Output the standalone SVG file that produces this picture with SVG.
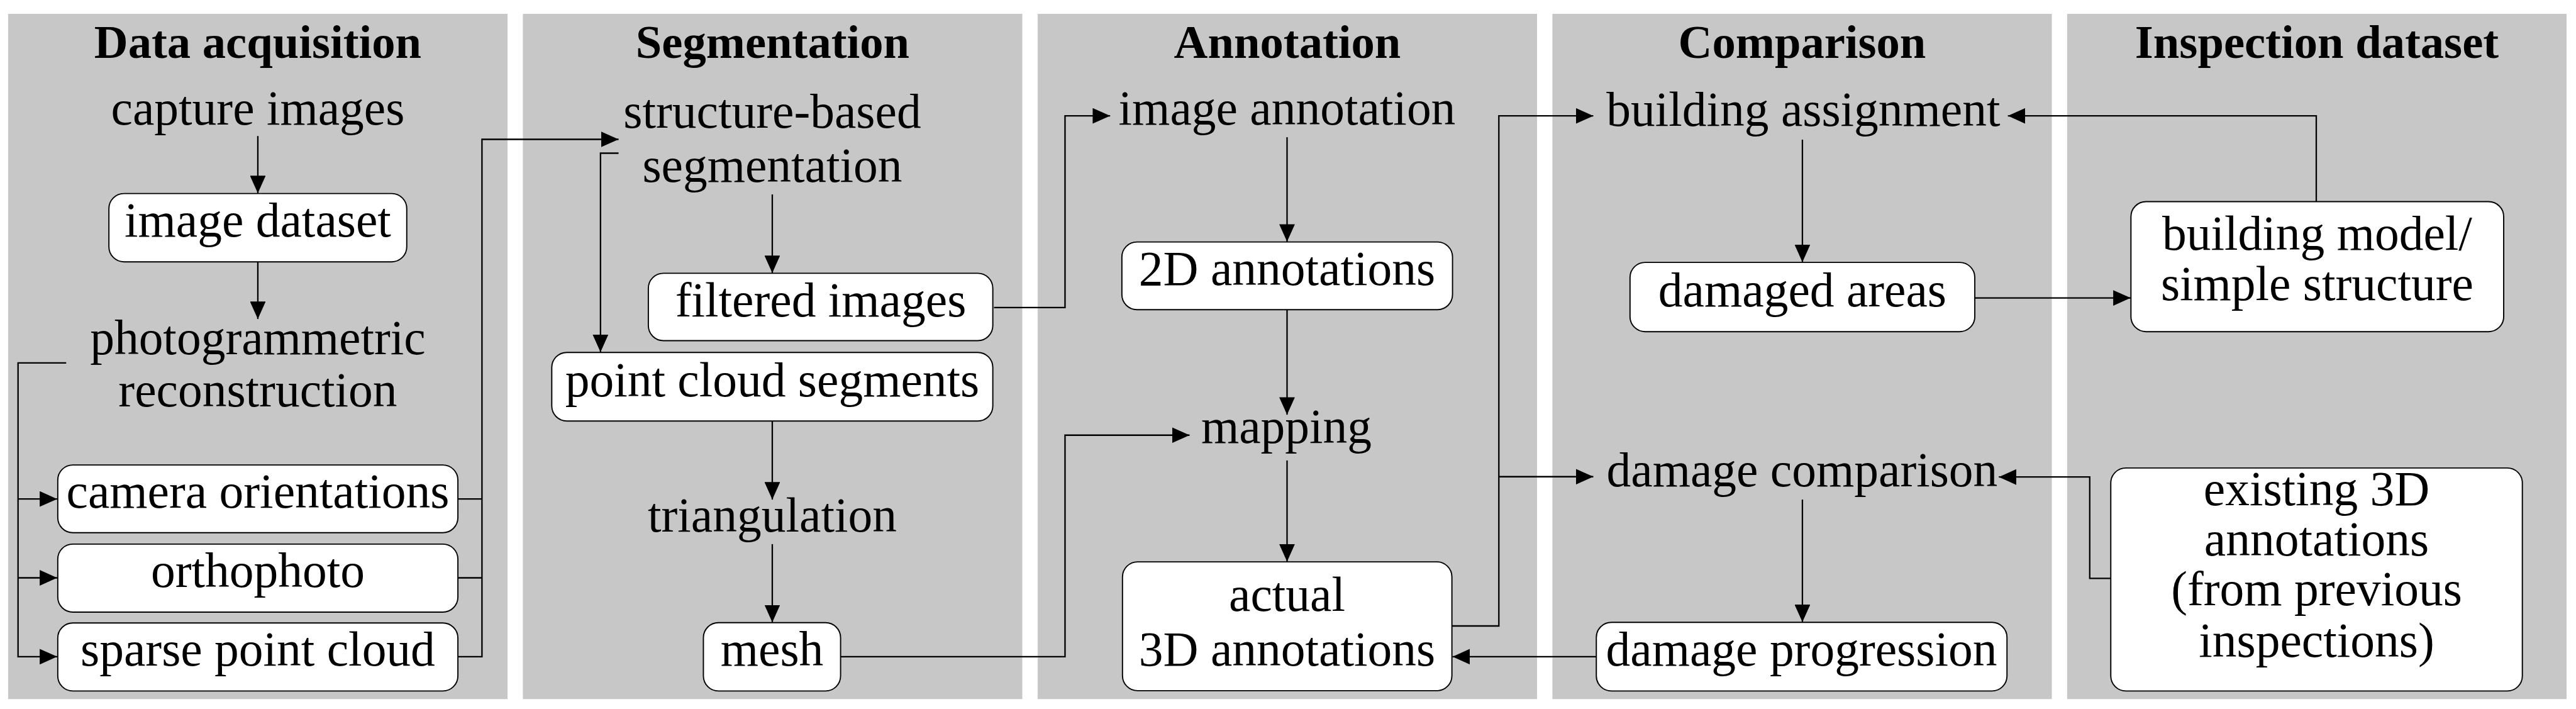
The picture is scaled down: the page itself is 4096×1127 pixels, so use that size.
<svg xmlns="http://www.w3.org/2000/svg" width="4096" height="1127" viewBox="0 0 4096 1127">
<defs>
<style>
.panel{fill:#c7c7c7}
.title{font-family:"Liberation Serif","Times New Roman",serif;font-weight:bold;font-size:78px;text-anchor:middle;fill:#000}
.lbl{font-family:"Liberation Serif","Times New Roman",serif;font-size:81px;text-anchor:middle;fill:#000}
.box{fill:#fff;stroke:#000;stroke-width:2}
.edge{fill:none;stroke:#000;stroke-width:2.4}
.arr{marker-end:url(#ah)}
</style>
<marker id="ah" markerUnits="userSpaceOnUse" markerWidth="29" markerHeight="26" viewBox="0 0 29 26" refX="29" refY="13" orient="auto"><path d="M0,0 L29,13 L0,26 z" fill="#000"/></marker>
</defs>
<rect width="4096" height="1127" fill="#fff"/>
<g transform="scale(0.95675)">
<g id="lanes">
<g id="lane-acquisition"><rect class="panel" x="13.5" y="23" width="830" height="1138.5"/><text class="title" x="428.5" y="96">Data acquisition</text></g>
<g id="lane-segmentation"><rect class="panel" x="869" y="23" width="830" height="1138.5"/><text class="title" x="1284" y="96">Segmentation</text></g>
<g id="lane-annotation"><rect class="panel" x="1724.5" y="23" width="830" height="1138.5"/><text class="title" x="2139.5" y="96">Annotation</text></g>
<g id="lane-comparison"><rect class="panel" x="2580" y="23" width="830" height="1138.5"/><text class="title" x="2995" y="96">Comparison</text></g>
<g id="lane-inspection"><rect class="panel" x="3435.5" y="23" width="830" height="1138.5"/><text class="title" x="3850.5" y="96">Inspection dataset</text></g>
</g>
<g id="connectors">
<path class="edge arr" d="M428.5,226 V321"/>
<path class="edge arr" d="M428.5,435 V530"/>
<path class="edge arr" d="M110,603 H30 V1091 H95"/>
<path class="edge arr" d="M30,829 H95"/>
<path class="edge arr" d="M30,960 H95"/>
<path class="edge" d="M761,829 H801"/>
<path class="edge" d="M761,960 H801"/>
<path class="edge arr" d="M761,1091 H801 V231.5 H1028"/>
<path class="edge arr" d="M1028,254.5 H998 V585"/>
<path class="edge arr" d="M1283.5,323 V453.5"/>
<path class="edge arr" d="M1652,511 H1770 V192.5 H1845"/>
<path class="edge arr" d="M1283.5,700 V830"/>
<path class="edge arr" d="M1283.5,904 V1034"/>
<path class="edge arr" d="M1397,1091 H1770 V723 H1977"/>
<path class="edge arr" d="M2139,228 V401.5"/>
<path class="edge arr" d="M2139,515 V689"/>
<path class="edge arr" d="M2139,765 V933"/>
<path class="edge arr" d="M2413,1040 H2491 V192.5 H2648"/>
<path class="edge arr" d="M2491,792 H2648"/>
<path class="edge arr" d="M2995.5,232 V435.5"/>
<path class="edge arr" d="M3282,495 H3541"/>
<path class="edge arr" d="M3849.5,335 V192.5 H3337"/>
<path class="edge arr" d="M2995.5,830 V1033.5"/>
<path class="edge arr" d="M2653,1091 H2414"/>
<path class="edge arr" d="M3508,961 H3473 V792.5 H3322"/>
</g>
<g id="capture-images"><text class="lbl" x="428.5" y="207">capture images</text></g>
<g id="image-dataset"><rect class="box" x="181" y="321.5" width="495" height="113.5" rx="25"/><text class="lbl" x="428.5" y="393">image dataset</text></g>
<g id="photogrammetric-reconstruction"><text class="lbl" x="428.5" y="588">photogrammetric</text><text class="lbl" x="428.5" y="675">reconstruction</text></g>
<g id="camera-orientations"><rect class="box" x="96" y="772.5" width="665" height="112.5" rx="25"/><text class="lbl" x="428.5" y="843">camera orientations</text></g>
<g id="orthophoto"><rect class="box" x="96" y="904" width="665" height="113" rx="25"/><text class="lbl" x="428.5" y="975">orthophoto</text></g>
<g id="sparse-point-cloud"><rect class="box" x="96" y="1035" width="665" height="113" rx="25"/><text class="lbl" x="428.5" y="1106">sparse point cloud</text></g>
<g id="structure-based-segmentation"><text class="lbl" x="1283.5" y="212">structure-based</text><text class="lbl" x="1283.5" y="302">segmentation</text></g>
<g id="filtered-images"><rect class="box" x="1077.5" y="454" width="572.5" height="112" rx="25"/><text class="lbl" x="1364" y="526">filtered images</text></g>
<g id="point-cloud-segments"><rect class="box" x="917" y="585.5" width="733" height="114" rx="25"/><text class="lbl" x="1283.5" y="658">point cloud segments</text></g>
<g id="triangulation"><text class="lbl" x="1283.5" y="883">triangulation</text></g>
<g id="mesh"><rect class="box" x="1169" y="1034.5" width="228" height="113.5" rx="25"/><text class="lbl" x="1283" y="1106">mesh</text></g>
<g id="image-annotation"><text class="lbl" x="2139" y="207">image annotation</text></g>
<g id="annotations-2d"><rect class="box" x="1864.5" y="402" width="549.5" height="112.5" rx="25"/><text class="lbl" x="2139" y="473">2D annotations</text></g>
<g id="mapping"><text class="lbl" x="2138" y="736">mapping</text></g>
<g id="actual-3d-annotations"><rect class="box" x="1865.5" y="933.5" width="547.5" height="214" rx="25"/><text class="lbl" x="2139" y="1015">actual</text><text class="lbl" x="2139" y="1106">3D annotations</text></g>
<g id="building-assignment"><text class="lbl" x="2997" y="209">building assignment</text></g>
<g id="damaged-areas"><rect class="box" x="2709" y="436" width="573" height="115" rx="25"/><text class="lbl" x="2995.5" y="509">damaged areas</text></g>
<g id="damage-comparison"><text class="lbl" x="2995" y="808">damage comparison</text></g>
<g id="damage-progression"><rect class="box" x="2653" y="1034" width="682.5" height="114" rx="25"/><text class="lbl" x="2994" y="1106">damage progression</text></g>
<g id="building-model"><rect class="box" x="3541.5" y="335" width="619.5" height="216" rx="25"/><text class="lbl" x="3851" y="415">building model/</text><text class="lbl" x="3851" y="499">simple structure</text></g>
<g id="existing-3d-annotations"><rect class="box" x="3508" y="777.5" width="684" height="370.5" rx="25"/><text class="lbl" x="3850" y="839">existing 3D</text><text class="lbl" x="3850" y="923">annotations</text><text class="lbl" x="3850" y="1005">(from previous</text><text class="lbl" x="3850" y="1091">inspections)</text></g>
</g>
</svg>
